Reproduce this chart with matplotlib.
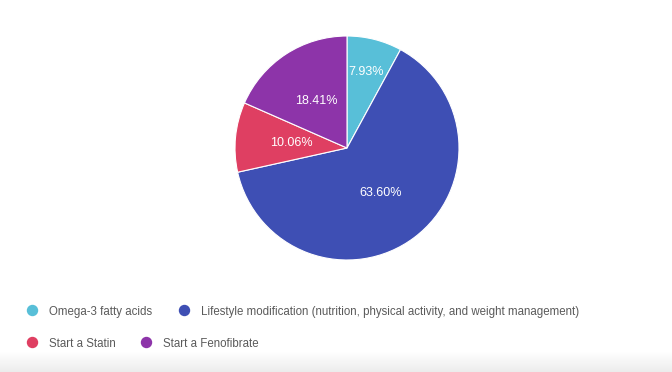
import matplotlib

matplotlib.use("Agg")
import matplotlib.pyplot as plt
import numpy as np

labels = [
    "Omega-3 fatty acids",
    "Lifestyle modification (nutrition, physical activity, and weight management)",
    "Start a Statin",
    "Start a Fenofibrate",
]
values = [7.93, 63.60, 10.06, 18.41]
colors = ["#58bfd8", "#3e4fb4", "#df3f62", "#8d34a9"]
label_r = [0.7, 0.5, 0.5, 0.5]

W, H = 672, 372
fig = plt.figure(figsize=(W / 100, H / 100), dpi=100, facecolor="white")
plt.rcParams["font.family"] = ["Liberation Sans", "DejaVu Sans"]

# pie: centre (347,148) px, radius 112 px
cx, cy, r = 347, 148, 112
ax = fig.add_axes([(cx - r) / W, (H - cy - r) / H, 2 * r / W, 2 * r / H])
wedges, _ = ax.pie(values, colors=colors, startangle=90, counterclock=False,
                   wedgeprops=dict(edgecolor="white", linewidth=0.8))
for w, v, d in zip(wedges, values, label_r):
    ang = np.deg2rad((w.theta1 + w.theta2) / 2)
    ax.text(d * np.cos(ang), d * np.sin(ang), f"{v:.2f}%", color="white",
            ha="center", va="center", fontsize=9)
ax.set_xlim(-1, 1)
ax.set_ylim(-1, 1)
ax.set_aspect("equal")
ax.axis("off")

# legend, two rows laid out like the form summary
rows = [[(0, 32), (1, 184)], [(2, 32), (3, 146)]]
row_y = [311, 343]
for row, y in zip(rows, row_y):
    for i, x in row:
        fig.add_artist(plt.Line2D([x / W], [1 - (y - 1) / H], marker="o", markersize=7.2,
                                  color=colors[i], linestyle="none"))
        fig.text((x + 17) / W, 1 - (y + 1) / H, labels[i], color="#5a5a5a",
                 fontsize=8.3, va="center", ha="left")

# faint grey fade at the bottom edge
gax = fig.add_axes([0, 0, 1, 20 / H])
grad = np.linspace(0, 1, 50).reshape(-1, 1)
gax.imshow(grad, aspect="auto", cmap=matplotlib.colors.LinearSegmentedColormap.from_list(
    "fade", ["#ffffff", "#ececec"]), extent=[0, 1, 1, 0])
gax.axis("off")

fig.savefig("out.png", dpi=100, facecolor="white")
